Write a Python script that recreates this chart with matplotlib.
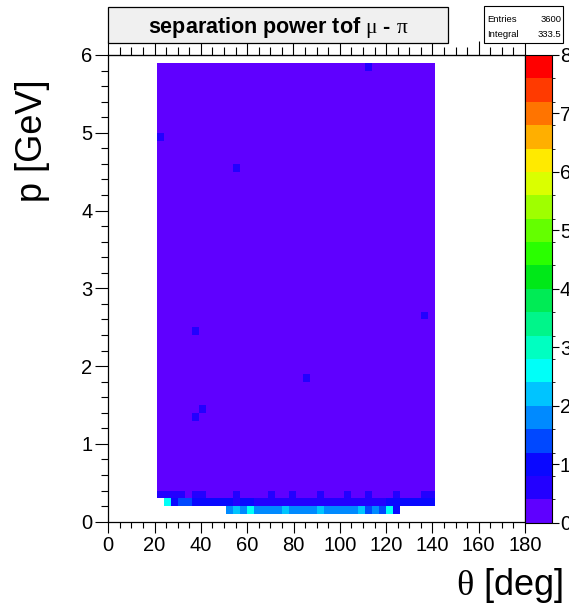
import numpy as np
import matplotlib
matplotlib.use("Agg")
import matplotlib.pyplot as plt
from matplotlib.colors import ListedColormap, BoundaryNorm
from matplotlib.patches import Rectangle
from matplotlib.ticker import MultipleLocator

plt.rcParams["font.family"] = ["Liberation Sans", "DejaVu Sans"]
plt.rcParams["mathtext.fontset"] = "custom"
plt.rcParams["mathtext.rm"] = "Liberation Serif"

# binning of the histogram: 60 x 60 bins
theta_edges = np.linspace(0, 180, 61)
p_edges = np.linspace(0, 6, 61)

# filled area, all in the lowest colour level
bulk_theta = (21, 141)
bulk_p = (0.4, 5.9)
bulk_value = 0.107

# lowest p rows, one value per theta bin from 21 to 141 deg (0 = empty)
row_p03 = [0.6, 0.6, 0.6, 0.6, 0.107, 0.6, 0.6, 0.107, 0.107, 0.107,
           0.107, 0.6, 0.107, 0.107, 0.107, 0.107, 0.6, 0.107, 0.107, 0.6,
           0.107, 0.107, 0.107, 0.6, 0.107, 0.107, 0.107, 0.6, 0.107, 0.107,
           0.6, 0.107, 0.107, 0.107, 0.6, 0.107, 0.107, 0.107, 0.6, 0.6]
row_p02 = [0, 2.6, 1.0, 1.4, 1.4, 1.0, 1.0, 1.0, 1.0, 1.0,
           1.0, 0.6, 1.0, 1.0, 0.6, 0.6, 0.6, 0.6, 0.6, 0.6,
           0.6, 0.6, 0.6, 0.6, 0.6, 0.6, 0.6, 0.6, 0.6, 0.6,
           0.6, 0.6, 0.6, 1.0, 1.0, 1.0, 1.0, 1.0, 1.0, 1.0]
row_p01 = [0, 0, 0, 0, 0, 0, 0, 0, 0, 0,
           1.8, 2.2, 1.8, 2.6, 1.8, 1.8, 1.8, 1.8, 2.2, 1.8,
           1.8, 1.8, 1.8, 2.2, 1.8, 1.8, 1.8, 1.8, 1.8, 2.2,
           1.4, 1.8, 1.4, 2.6, 1.0, 0, 0, 0, 0, 0]

# isolated cells with a higher value (bin centres)
iso_theta = [22.5, 55.5, 112.5, 136.5, 37.5, 85.5, 40.5, 37.5]
iso_p = [4.95, 4.55, 5.85, 2.65, 2.45, 1.85, 1.45, 1.35]
iso_value = [0.6, 0.6, 0.6, 0.6, 0.6, 0.6, 0.6, 0.6]

levels = np.linspace(0, 8, 21)
palette = ["#5f00ff", "#2300ff", "#0a08ff", "#0048ff", "#008aff",
           "#00c4ff", "#00fff8", "#00ffc1", "#00f58a", "#00eb55",
           "#00e818", "#2aff00", "#64ff00", "#9fff00", "#daff00",
           "#ffea00", "#ffaf00", "#ff7400", "#ff3a00", "#ff0000"]


def bin_of(v, edges):
    return np.searchsorted(edges, v + 1e-6) - 1


z = np.zeros((60, 60))
c0, c1 = bin_of(bulk_theta[0], theta_edges), bin_of(bulk_theta[1], theta_edges)
r0, r1 = bin_of(bulk_p[0], p_edges), bin_of(bulk_p[1], p_edges)
z[r0:r1, c0:c1] = bulk_value
z[bin_of(0.3, p_edges), c0:c1] = row_p03
z[bin_of(0.2, p_edges), c0:c1] = row_p02
z[bin_of(0.1, p_edges), c0:c1] = row_p01
for t, p, v in zip(iso_theta, iso_p, iso_value):
    z[bin_of(p, p_edges), bin_of(t, theta_edges)] = v
zm = np.ma.masked_equal(z, 0)

W, H = 569, 608
fig = plt.figure(figsize=(W / 100, H / 100), dpi=100)


def fx(px):
    return px / W


def fy(py):
    return 1 - py / H


ax = fig.add_axes([fx(108.3), fy(521.7), fx(525) - fx(108.3), fy(55) - fy(521.7)])
cmap = ListedColormap(palette)
norm = BoundaryNorm(levels, cmap.N)
mesh = ax.pcolormesh(theta_edges, p_edges, zm, cmap=cmap, norm=norm,
                     antialiased=False, edgecolors="none")

ax.set_xlim(0, 180)
ax.set_ylim(0, 6)
ax.xaxis.set_major_locator(MultipleLocator(20))
ax.xaxis.set_minor_locator(MultipleLocator(5))
ax.yaxis.set_major_locator(MultipleLocator(1))
ax.yaxis.set_minor_locator(MultipleLocator(0.2))
ax.tick_params(axis="x", which="major", direction="out", length=8, width=0.8,
               labelsize=14.5, pad=2)
ax.tick_params(axis="x", which="minor", direction="out", length=4.3, width=0.8)
ax.tick_params(axis="y", which="major", direction="out", length=9.4, width=0.8,
               labelsize=14.5, pad=2)
ax.tick_params(axis="y", which="minor", direction="out", length=5, width=0.8)
for s in ax.spines.values():
    s.set_linewidth(0.9)

top = ax.secondary_xaxis("top")
top.xaxis.set_major_locator(MultipleLocator(20))
top.xaxis.set_minor_locator(MultipleLocator(5))
top.tick_params(which="major", direction="out", length=10, width=0.8, labeltop=False)
top.tick_params(which="minor", direction="out", length=5.5, width=0.8)

cax = fig.add_axes([fx(525), fy(522.7), fx(551.7) - fx(525), fy(55) - fy(522.7)])
cb = fig.colorbar(mesh, cax=cax, ticks=range(9))
cb.outline.set_linewidth(0.8)
cax.tick_params(length=4.8, width=0.8, labelsize=14.5, pad=1)

fig.text(fx(33), fy(141), "p [GeV]", rotation=90, ha="center", va="center", fontsize=26)
fig.text(fx(563), fy(595), r"$\mathrm{\theta}$ [deg]", ha="right", va="baseline", fontsize=26)

# title box
fig.patches.append(Rectangle((fx(108.3), fy(42.7)), fx(448.3) - fx(108.3), fy(7.3) - fy(42.7),
                             transform=fig.transFigure, facecolor="#f0f0f0",
                             edgecolor="black", linewidth=0.9, zorder=5))
fig.text(fx(278), fy(33), r"separation power tof $\mathrm{\mu}$ - $\mathrm{\pi}$", ha="center",
         va="baseline", fontsize=15.5, fontweight="bold", zorder=6)

# stats box
fig.patches.append(Rectangle((fx(484), fy(42.7)), fx(563.3) - fx(484), fy(6) - fy(42.7),
                             transform=fig.transFigure, facecolor="white",
                             edgecolor="black", linewidth=0.8, zorder=5))
fig.text(fx(487.5), fy(22), "Entries", fontsize=6.8, ha="left", va="baseline", zorder=6)
fig.text(fx(561.5), fy(22), "3600", fontsize=6.8, ha="right", va="baseline", zorder=6)
fig.text(fx(487.5), fy(37), "Integral", fontsize=6.8, ha="left", va="baseline", zorder=6)
fig.text(fx(561.5), fy(37), "333.5", fontsize=6.8, ha="right", va="baseline", zorder=6)

fig.savefig("out.png", dpi=100)
